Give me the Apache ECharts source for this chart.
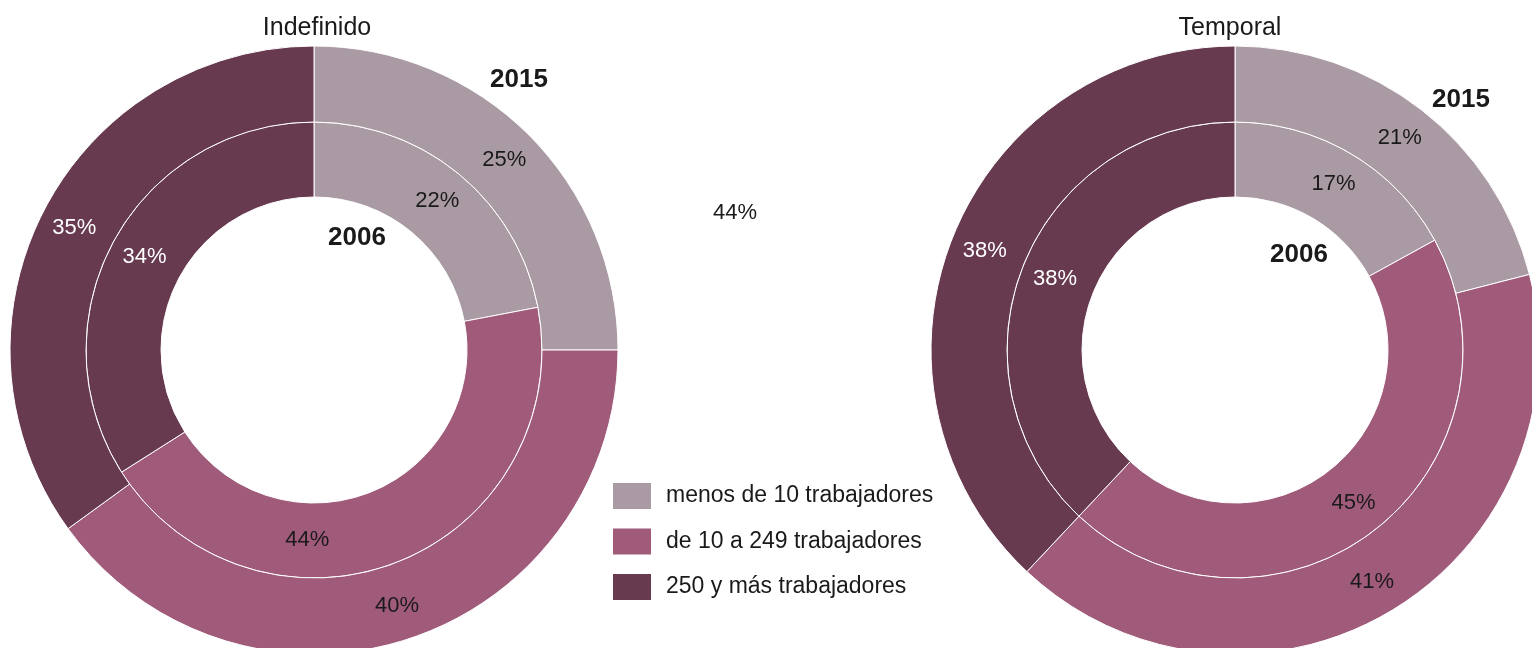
<!DOCTYPE html>
<html>
<head>
<meta charset="utf-8">
<script src="https://cdn.jsdelivr.net/npm/echarts@6/dist/echarts.min.js"></script>
<style>
html,body{margin:0;padding:0;background:#fff;}
#c{width:1532px;height:648px;}
</style>
</head>
<body>
<div id="c"></div>
<script>
const categories = ['menos de 10 trabajadores', 'de 10 a 249 trabajadores', '250 y más trabajadores'];
const indefinido2006 = [22, 44, 34];
const indefinido2015 = [25, 40, 35];
const temporal2006 = [17, 45, 38];
const temporal2015 = [21, 41, 38];
const colors = ['#aa9aa4', '#a05b7b', '#673a4f'];
const labelColors = ['#1a1a1a', '#1a1a1a', '#ffffff'];

const FONT = 'Liberation Sans';

function mk(values, offsets) {
  return values.map((v, i) => {
    const item = {
      name: categories[i], value: v,
      itemStyle: { color: colors[i] },
      label: { color: labelColors[i] }
    };
    if (offsets && offsets[i]) item.label.offset = offsets[i];
    return item;
  });
}

function pie(center, radius, values, offsets) {
  return {
    type: 'pie',
    center: center,
    radius: radius,
    startAngle: 90,
    clockwise: true,
    animation: false,
    silent: true,
    itemStyle: { borderColor: '#ffffff', borderWidth: 1 },
    label: {
      show: true, position: 'inside', formatter: '{c}%',
      fontFamily: FONT, fontSize: 22, fontWeight: 'normal'
    },
    labelLine: { show: false },
    data: mk(values, offsets)
  };
}

const chart = echarts.init(document.getElementById('c'), null, { renderer: 'canvas' });
chart.setOption({
  backgroundColor: '#ffffff',
  animation: false,
  title: [
    { text: 'Indefinido', left: 312, top: 11, textAlign: 'center',
      textStyle: { fontFamily: FONT, fontSize: 25, fontWeight: 'normal', color: '#1a1a1a' } },
    { text: 'Temporal', left: 1225, top: 11, textAlign: 'center',
      textStyle: { fontFamily: FONT, fontSize: 25, fontWeight: 'normal', color: '#1a1a1a' } }
  ],
  legend: {
    orient: 'vertical', left: 611, top: 481, padding: 0,
    itemWidth: 40, itemHeight: 28, itemGap: 15.5, icon: 'rect',
    data: categories,
    textStyle: { fontFamily: FONT, fontSize: 23, color: '#1a1a1a', padding: [0, 0, 0, 9] }
  },
  graphic: [
    { type: 'text', left: 490, top: 67, style: { text: '2015', fontFamily: FONT, fontSize: 26, fontWeight: 'bold', fill: '#1a1a1a' } },
    { type: 'text', left: 328, top: 225, style: { text: '2006', fontFamily: FONT, fontSize: 26, fontWeight: 'bold', fill: '#1a1a1a' } },
    { type: 'text', left: 1432, top: 87, style: { text: '2015', fontFamily: FONT, fontSize: 26, fontWeight: 'bold', fill: '#1a1a1a' } },
    { type: 'text', left: 1270, top: 242, style: { text: '2006', fontFamily: FONT, fontSize: 26, fontWeight: 'bold', fill: '#1a1a1a' } },
    { type: 'text', left: 713, top: 202, style: { text: indefinido2006[1] + '%', fontFamily: FONT, fontSize: 22, fill: '#1a1a1a' } }
  ],
  series: [
    pie([314, 350], [153, 228], indefinido2006, [null, [-78, 10], null]),
    pie([314, 350], [228, 304], indefinido2015),
    pie([1235, 350], [153, 228], temporal2006),
    pie([1235, 350], [228, 304], temporal2015)
  ]
});
</script>
</body>
</html>
